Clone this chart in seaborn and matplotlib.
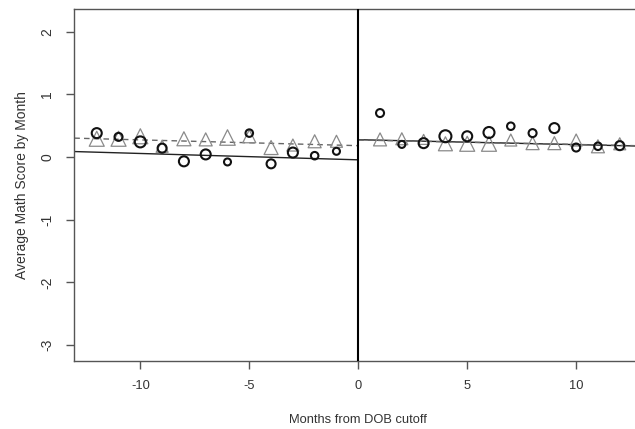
import numpy as np
import pandas as pd
import matplotlib
matplotlib.use('Agg')
import matplotlib.pyplot as plt
import seaborn as sns

# months relative to the date-of-birth cutoff
months_left = [-12, -11, -10, -9, -8, -7, -6, -5, -4, -3, -2, -1]
months_right = [1, 2, 3, 4, 5, 6, 7, 8, 9, 10, 11, 12]

# circles (black) - average math score by month
circle_left = [0.38, 0.32, 0.24, 0.14, -0.07, 0.04, -0.08, 0.38, -0.11, 0.07, 0.02, 0.09]
circle_right = [0.70, 0.20, 0.22, 0.33, 0.33, 0.39, 0.49, 0.38, 0.46, 0.15, 0.17, 0.18]
circle_size_left = [10, 8, 11, 9, 10, 10, 7, 7.5, 9, 10, 7.5, 7]
circle_size_right = [8, 7, 10, 12, 10, 11, 7.5, 8, 10, 8, 7.5, 9]

# triangles (grey) - comparison group
tri_left = [0.29, 0.29, 0.33, 0.17, 0.29, 0.28, 0.31, 0.33, 0.15, 0.19, 0.25, 0.25]
tri_right = [0.28, 0.29, 0.28, 0.21, 0.21, 0.21, 0.27, 0.22, 0.22, 0.27, 0.17, 0.21]
tri_size_left = [15, 15, 15, 12, 14, 13, 15.5, 13, 14, 12, 13, 12]
tri_size_right = [13, 12, 10, 14, 15, 15, 12, 13, 13, 12, 13, 12]

# fitted lines on each side of the cutoff (end points)
fit_x_left = [-13.03, 0]
fit_solid_left = [0.086, -0.046]
fit_dash_left = [0.30, 0.18]
fit_x_right = [0, 12.7]
fit_solid_right = [0.275, 0.175]
fit_dash_right = [0.27, 0.18]

sns.set_style('ticks')
plt.rcParams['font.family'] = ['Liberation Sans', 'DejaVu Sans']
plt.rcParams['axes.unicode_minus'] = False

fig = plt.figure(figsize=(6.35, 4.29), dpi=100)
ax = fig.add_axes([74.3 / 635, (429 - 361.3) / 429, (635 - 74.3) / 635, (361.3 - 9) / 429])

px = 72 / 100  # pixel -> points

circles = pd.DataFrame({
    'month': months_left + months_right,
    'score': circle_left + circle_right,
    'size': circle_size_left + circle_size_right,
})
triangles = pd.DataFrame({
    'month': months_left + months_right,
    'score': tri_left + tri_right,
    'size': tri_size_left + tri_size_right,
})

sns.scatterplot(data=triangles, x='month', y='score', marker='^',
                s=(triangles['size'] * px) ** 2, facecolors='none',
                edgecolor='#8a8a8a', linewidth=0.9, ax=ax, zorder=3)
sns.scatterplot(data=circles, x='month', y='score', marker='o',
                s=(circles['size'] * px) ** 2, facecolors='none',
                edgecolor='#111111', linewidth=1.5, ax=ax, zorder=4)

sns.lineplot(x=fit_x_left, y=fit_solid_left, color='#222222', linewidth=1.0, ax=ax)
sns.lineplot(x=fit_x_left, y=fit_dash_left, color='#666666', linewidth=1.0,
             linestyle=(0, (4, 3)), ax=ax)
sns.lineplot(x=fit_x_right, y=fit_solid_right, color='#222222', linewidth=1.0, ax=ax)
sns.lineplot(x=fit_x_right, y=fit_dash_right, color='#666666', linewidth=1.0,
             linestyle=(0, (4, 3)), ax=ax)

ax.axvline(0, color='black', linewidth=1.5, zorder=5)

ax.set_xlim(-13.03, 12.7)
ax.set_ylim(-3.26, 2.36)
ax.set_xticks([-10, -5, 0, 5, 10])
ax.set_xticklabels(['-10', '-5', '0', '5', '10'], fontsize=9.3)
ax.set_yticks([-3, -2, -1, 0, 1, 2])
ax.set_yticklabels(['-3', '-2', '-1', '0', '1', '2'], rotation=90, va='center', fontsize=10)

for side in ['left', 'bottom', 'top']:
    ax.spines[side].set_color('#555555')
    ax.spines[side].set_linewidth(1.0)
ax.spines['right'].set_visible(False)
ax.tick_params(direction='out', length=6, width=1.0, color='#555555',
               labelcolor='#333333')
ax.tick_params(axis='x', pad=7.5)
ax.tick_params(axis='y', pad=8.5)

ax.set_xlabel('Months from DOB cutoff', fontsize=9.3, color='#333333')
ax.set_ylabel('Average Math Score by Month', fontsize=10, color='#333333')
ax.xaxis.set_label_coords(0.506, -0.167)
ax.yaxis.set_label_coords(-0.094, 0.5)
ax.xaxis.label.set_va('center')
ax.yaxis.label.set_va('center')

fig.savefig('out.png', dpi=100, facecolor='white')
